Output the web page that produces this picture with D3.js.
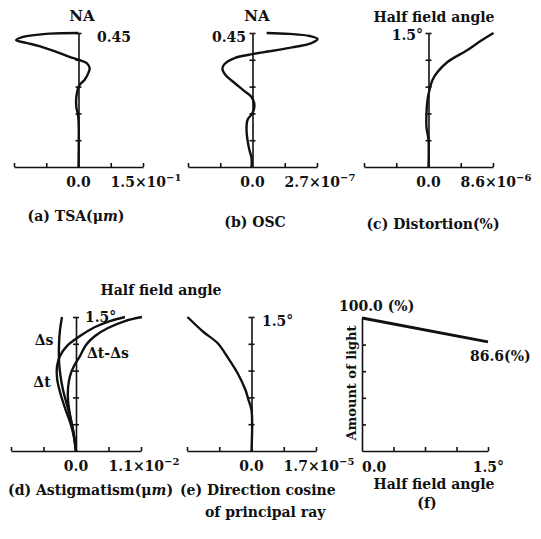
<!DOCTYPE html>
<html>
<head>
<meta charset="utf-8">
<script src="https://cdn.jsdelivr.net/npm/d3@7"></script>
<style>
  body { margin: 0; background: #fff; }
  svg text { font-family: "DejaVu Serif", serif; font-weight: bold; fill: #111; }
</style>
</head>
<body>
<div id="chart"></div>
<script>
// (a) TSA (um) against NA
const naA = [0.45, 0.448, 0.442, 0.436, 0.426, 0.417, 0.406, 0.387, 0.370, 0.359, 0.349, 0.332, 0.316, 0.292, 0.275, 0.235, 0.201, 0.181, 0.158, 0]
const tsa = [0, -0.068, -0.108, -0.131, -0.145, -0.122, -0.091, -0.052, -0.021, 0.002, 0.019, 0.026, 0.023, 0.014, 0.002, -0.005, -0.005, -0.002, 0, 0]

// (b) OSC against NA
const naB = [0.45, 0.447, 0.440, 0.430, 0.416, 0.400, 0.386, 0.379, 0.366, 0.346, 0.329, 0.309, 0.282, 0.255, 0.235, 0.208, 0.181, 0.158, 0.124, 0.091, 0.057, 0.030, 0]
const osc = [0.59e-7, 1.55e-7, 2.39e-7, 2.72e-7, 2.47e-7, 1.55e-7, 0.50e-7, 0, -0.75e-7, -1.17e-7, -1.26e-7, -1.13e-7, -0.75e-7, -0.34e-7, -0.04e-7, 0.08e-7, 0, -0.21e-7, -0.25e-7, -0.21e-7, -0.13e-7, -0.04e-7, -0.04e-7]

// (c) distortion (%) against half field angle
const angleC = [1.5, 1.41, 1.31, 1.175, 1.063, 0.974, 0.862, 0.75, 0.604, 0.448, 0.302, 0]
const distortion = [8.67e-6, 6.93e-6, 5.2e-6, 2.53e-6, 1.2e-6, 0.53e-6, 0.13e-6, -0.13e-6, -0.27e-6, -0.27e-6, 0, 0]

// (d) astigmatism (um) against half field angle
const angleS = [1.5, 1.354, 1.187, 1.019, 0.884, 0.683, 0.515, 0.347, 0.179, 0]
const deltaS = [-0.237e-2, -0.271e-2, -0.288e-2, -0.288e-2, -0.271e-2, -0.220e-2, -0.152e-2, -0.085e-2, -0.034e-2, 0]
const angleT = [1.5, 1.455, 1.388, 1.287, 1.187, 1.063, 0.951, 0.817, 0.660, 0.481, 0.325, 0.157, 0]
const deltaT = [0.829e-2, 0.575e-2, 0.321e-2, 0.068e-2, -0.135e-2, -0.271e-2, -0.321e-2, -0.321e-2, -0.271e-2, -0.186e-2, -0.101e-2, -0.034e-2, 0]
const angleTS = [1.5, 1.455, 1.377, 1.287, 1.187, 1.063, 0.951, 0.840, 0.705, 0.571, 0.403, 0.235, 0]
const deltaTS = [1.117e-2, 0.829e-2, 0.541e-2, 0.321e-2, 0.169e-2, 0.068e-2, -0.034e-2, -0.101e-2, -0.135e-2, -0.135e-2, -0.101e-2, -0.051e-2, 0]

// (e) direction cosine of principal ray against half field angle
const angleE = [1.5, 1.332, 1.209, 1.052, 0.873, 0.683, 0.571, 0.459, 0]
const dirCos = [-1.687e-5, -1.265e-5, -0.896e-5, -0.633e-5, -0.369e-5, -0.158e-5, -0.079e-5, 0, 0]

// (f) amount of light (%) against half field angle
const angleF = [0, 1.5]
const light = [100.0, 86.6]

const width = 541, height = 539
const fs = 14

const svg = d3.select("#chart").append("svg")
  .attr("width", width)
  .attr("height", height)

const ink = "#111"

function label(text, x, y, anchor, size) {
  return svg.append("text")
    .attr("x", x)
    .attr("y", y)
    .attr("text-anchor", anchor || "middle")
    .style("font-size", (size || fs) + "px")
    .text(text)
}

// captions like "(a) TSA(um)" with an italic m
function unitLabel(before, x, y, anchor) {
  const t = label("", x, y, anchor)
  t.append("tspan").text(before + "(\u03bc")
  t.append("tspan").style("font-style", "italic").text("m")
  t.append("tspan").text(")")
  return t
}

// "1.5x10^-1" style labels
function sciLabel(mant, exp, x, y) {
  const t = label("", x, y)
  t.append("tspan").text(mant + "\u00d710")
  t.append("tspan").attr("dy", -6).style("font-size", "10px").text("\u2212" + exp)
  return t
}

function styleAxis(g) {
  g.selectAll("path,line").attr("stroke", ink).attr("stroke-width", 1.6)
}

// symmetric-x plot with a central vertical axis (panels a-e)
function drawPanel(p) {
  const x = d3.scaleLinear().domain([-p.xmax, p.xmax]).range([p.left, p.right])
  const y = d3.scaleLinear().domain([0, p.ymax]).range([p.bottom, p.top])

  const xt = [-p.xmax, -p.xmax / 2, p.xmax / 2, p.xmax]
  svg.append("g")
    .attr("transform", `translate(0,${p.bottom})`)
    .call(d3.axisBottom(x).tickValues(xt).tickSizeInner(-4).tickSizeOuter(0).tickFormat(""))
    .call(styleAxis)

  const yt = d3.range(1, 6).map(i => i * p.ymax / 5)
  svg.append("g")
    .attr("transform", `translate(${x(0)},0)`)
    .call(d3.axisLeft(y).tickValues(yt).tickSizeInner(3).tickSizeOuter(0).tickFormat(""))
    .call(styleAxis)
  svg.append("g")
    .attr("transform", `translate(${x(0)},0)`)
    .call(d3.axisRight(y).tickValues(yt).tickSizeInner(3).tickSizeOuter(0).tickFormat(""))
    .call(styleAxis)
    .call(g => g.select(".domain").remove())

  const line = d3.line()
    .x(d => x(d[0]))
    .y(d => y(d[1]))
    .curve(d3.curveCatmullRom.alpha(0.5))

  p.series.forEach(s => {
    svg.append("path")
      .datum(d3.zip(s.values, s.ys))
      .attr("fill", "none")
      .attr("stroke", ink)
      .attr("stroke-width", 2.4)
      .attr("stroke-linejoin", "round")
      .attr("d", line)
  })

  label("0.0", x(0), p.bottom + 20)
  sciLabel(p.mant, p.exp, p.right + 3, p.bottom + 20)
  return { x, y }
}

// top row
drawPanel({ left: 14, right: 143, top: 33, bottom: 167, xmax: 0.15, ymax: 0.45,
  mant: "1.5", exp: "1", series: [{ values: tsa, ys: naA }] })
drawPanel({ left: 188, right: 317, top: 33, bottom: 167, xmax: 2.7e-7, ymax: 0.45,
  mant: "2.7", exp: "7", series: [{ values: osc, ys: naB }] })
drawPanel({ left: 364, right: 493, top: 33, bottom: 167, xmax: 8.6e-6, ymax: 1.5,
  mant: "8.6", exp: "6", series: [{ values: distortion, ys: angleC }] })

label("NA", 82, 21, "middle", 15)
label("0.45", 97, 42, "start")
label("NA", 257, 21, "middle", 15)
label("0.45", 246, 42, "end")
label("Half field angle", 434, 22)
label("1.5\u00b0", 423, 40, "end")

unitLabel("(a) TSA", 76, 221)
label("(b) OSC", 255, 227)
label("(c) Distortion(%)", 433, 229)

// bottom row
drawPanel({ left: 11, right: 141, top: 317, bottom: 451, xmax: 1.1e-2, ymax: 1.5,
  mant: "1.1", exp: "2", series: [
    { values: deltaS, ys: angleS },
    { values: deltaT, ys: angleT },
    { values: deltaTS, ys: angleTS }
  ] })
drawPanel({ left: 187, right: 316, top: 317, bottom: 451, xmax: 1.7e-5, ymax: 1.5,
  mant: "1.7", exp: "5", series: [{ values: dirCos, ys: angleE }] })

label("Half field angle", 161, 295)
label("1.5\u00b0", 85, 322, "start")
label("1.5\u00b0", 262, 326, "start")
label("\u0394s", 44, 345)
label("\u0394t", 42, 387)
label("\u0394t-\u0394s", 87, 358, "start")

// (f) amount of light
const xF = d3.scaleLinear().domain([0, 1.5]).range([362, 488])
const yF = d3.scaleLinear().domain([25, 100]).range([451, 318])

svg.append("g")
  .attr("transform", "translate(0,451)")
  .call(d3.axisBottom(xF).tickValues(d3.range(1, 5).map(i => i * 0.375)).tickSizeInner(-4).tickSizeOuter(0).tickFormat(""))
  .call(styleAxis)
svg.append("g")
  .attr("transform", "translate(362,0)")
  .call(d3.axisRight(yF).tickValues(d3.range(1, 6).map(i => 25 + i * 15)).tickSizeInner(4).tickSizeOuter(0).tickFormat(""))
  .call(styleAxis)

svg.append("path")
  .datum(d3.zip(angleF, light))
  .attr("fill", "none")
  .attr("stroke", ink)
  .attr("stroke-width", 2.8)
  .attr("d", d3.line().x(d => xF(d[0])).y(d => yF(d[1])))

label("100.0 (%)", 339, 311, "start")
label("86.6(%)", 470, 361, "start")
label("0.0", 362, 472, "start")
label("1.5\u00b0", 504, 472, "end")
label("Half field angle", 434, 489)
label("(f)", 427, 508)
svg.append("text")
  .attr("transform", "translate(356,383) rotate(-90)")
  .attr("text-anchor", "middle")
  .style("font-size", "13px")
  .text("Amount of light")

unitLabel("(d) Astigmatism", 173, 495, "end")
label("(e) Direction cosine", 180, 495, "start")
label("of principal ray", 205, 517, "start")
</script>
</body>
</html>
